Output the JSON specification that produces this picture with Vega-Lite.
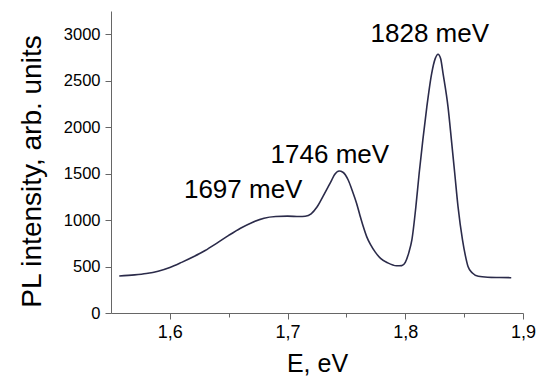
{
  "$schema": "https://vega.github.io/schema/vega-lite/v6.json",
  "autosize": {"type": "none"},
  "width": 412,
  "height": 302,
  "padding": {"left": 111, "top": 11, "right": 19, "bottom": 65},
  "background": "white",
  "config": {
    "view": {"stroke": null},
    "font": "Liberation Sans",
    "axis": {"grid": false, "domainColor": "#666666", "tickColor": "#666666", "labelColor": "#000000", "titleColor": "#000000", "labelFont": "Liberation Sans", "titleFont": "Liberation Sans", "titleFontWeight": "normal"}
  },
  "datasets": {
    "spectrum": [
      {"E": 1.557, "I": 398}, {"E": 1.570, "I": 410}, {"E": 1.580, "I": 425}, {"E": 1.590, "I": 450},
      {"E": 1.600, "I": 490}, {"E": 1.610, "I": 545}, {"E": 1.620, "I": 605}, {"E": 1.630, "I": 672},
      {"E": 1.640, "I": 752}, {"E": 1.650, "I": 835}, {"E": 1.660, "I": 912}, {"E": 1.670, "I": 975},
      {"E": 1.680, "I": 1020}, {"E": 1.690, "I": 1038}, {"E": 1.700, "I": 1042}, {"E": 1.710, "I": 1038},
      {"E": 1.715, "I": 1042}, {"E": 1.720, "I": 1068}, {"E": 1.725, "I": 1140}, {"E": 1.730, "I": 1252},
      {"E": 1.735, "I": 1370}, {"E": 1.7375, "I": 1431}, {"E": 1.740, "I": 1490}, {"E": 1.7438, "I": 1528},
      {"E": 1.747, "I": 1515}, {"E": 1.7515, "I": 1431}, {"E": 1.755, "I": 1315}, {"E": 1.7586, "I": 1181},
      {"E": 1.7615, "I": 1050}, {"E": 1.7643, "I": 930}, {"E": 1.7672, "I": 822}, {"E": 1.7705, "I": 735},
      {"E": 1.7745, "I": 655}, {"E": 1.7790, "I": 588}, {"E": 1.785, "I": 540}, {"E": 1.7925, "I": 508},
      {"E": 1.797, "I": 510}, {"E": 1.800, "I": 545}, {"E": 1.803, "I": 650}, {"E": 1.8056, "I": 787},
      {"E": 1.809, "I": 1145}, {"E": 1.8118, "I": 1504}, {"E": 1.8149, "I": 1861}, {"E": 1.8183, "I": 2219},
      {"E": 1.8224, "I": 2577}, {"E": 1.8255, "I": 2740}, {"E": 1.8278, "I": 2785}, {"E": 1.830, "I": 2740},
      {"E": 1.8321, "I": 2577}, {"E": 1.8363, "I": 2219}, {"E": 1.8392, "I": 1861}, {"E": 1.842, "I": 1504},
      {"E": 1.8448, "I": 1145}, {"E": 1.8486, "I": 787}, {"E": 1.851, "I": 620}, {"E": 1.8533, "I": 500},
      {"E": 1.857, "I": 430}, {"E": 1.862, "I": 395}, {"E": 1.870, "I": 385}, {"E": 1.880, "I": 382},
      {"E": 1.890, "I": 380}
    ],
    "labels": [
      {"E": 1.8208, "I": 2917, "label": "1828 meV"},
      {"E": 1.7359, "I": 1617, "label": "1746 meV"},
      {"E": 1.6623, "I": 1235, "label": "1697 meV"}
    ]
  },
  "layer": [
    {
      "data": {"name": "spectrum"},
      "mark": {"type": "line", "color": "#2b2b4a", "strokeWidth": 1.6, "interpolate": "monotone"},
      "encoding": {
        "x": {"field": "E", "type": "quantitative", "scale": {"domain": [1.55, 1.9], "nice": false, "zero": false},
          "axis": {"title": "E, eV", "titleFontSize": 25, "titlePadding": 10, "labelFontSize": 18, "labelPadding": 4,
            "values": [1.6, 1.65, 1.7, 1.75, 1.8, 1.85, 1.9],
            "labelExpr": "abs(datum.value*10 - round(datum.value*10)) < 0.001 ? replace(format(datum.value, '.1f'), '.', ',') : ''",
            "tickSize": {"condition": {"test": "abs(datum.value*10 - round(datum.value*10)) < 0.001", "value": 6}, "value": 4},
            "labelFlush": false}},
        "y": {"field": "I", "type": "quantitative", "scale": {"domain": [0, 3250], "nice": false},
          "axis": {"title": "PL intensity, arb. units", "titleFontSize": 28, "titlePadding": 17, "titleY": 160, "labelFontSize": 16.5, "labelPadding": 5,
            "values": [0, 250, 500, 750, 1000, 1250, 1500, 1750, 2000, 2250, 2500, 2750, 3000, 3250],
            "labelExpr": "datum.value % 500 === 0 ? format(datum.value, 'd') : ''",
            "tickSize": {"condition": {"test": "datum.value % 500 === 0", "value": 6}, "value": 3},
            "labelFlush": false}}
      }
    },
    {
      "data": {"name": "labels"},
      "mark": {"type": "text", "fontSize": 26, "align": "center", "baseline": "alphabetic", "color": "#000000", "font": "Liberation Sans"},
      "encoding": {
        "x": {"field": "E", "type": "quantitative"},
        "y": {"field": "I", "type": "quantitative"},
        "text": {"field": "label"}
      }
    }
  ]
}
